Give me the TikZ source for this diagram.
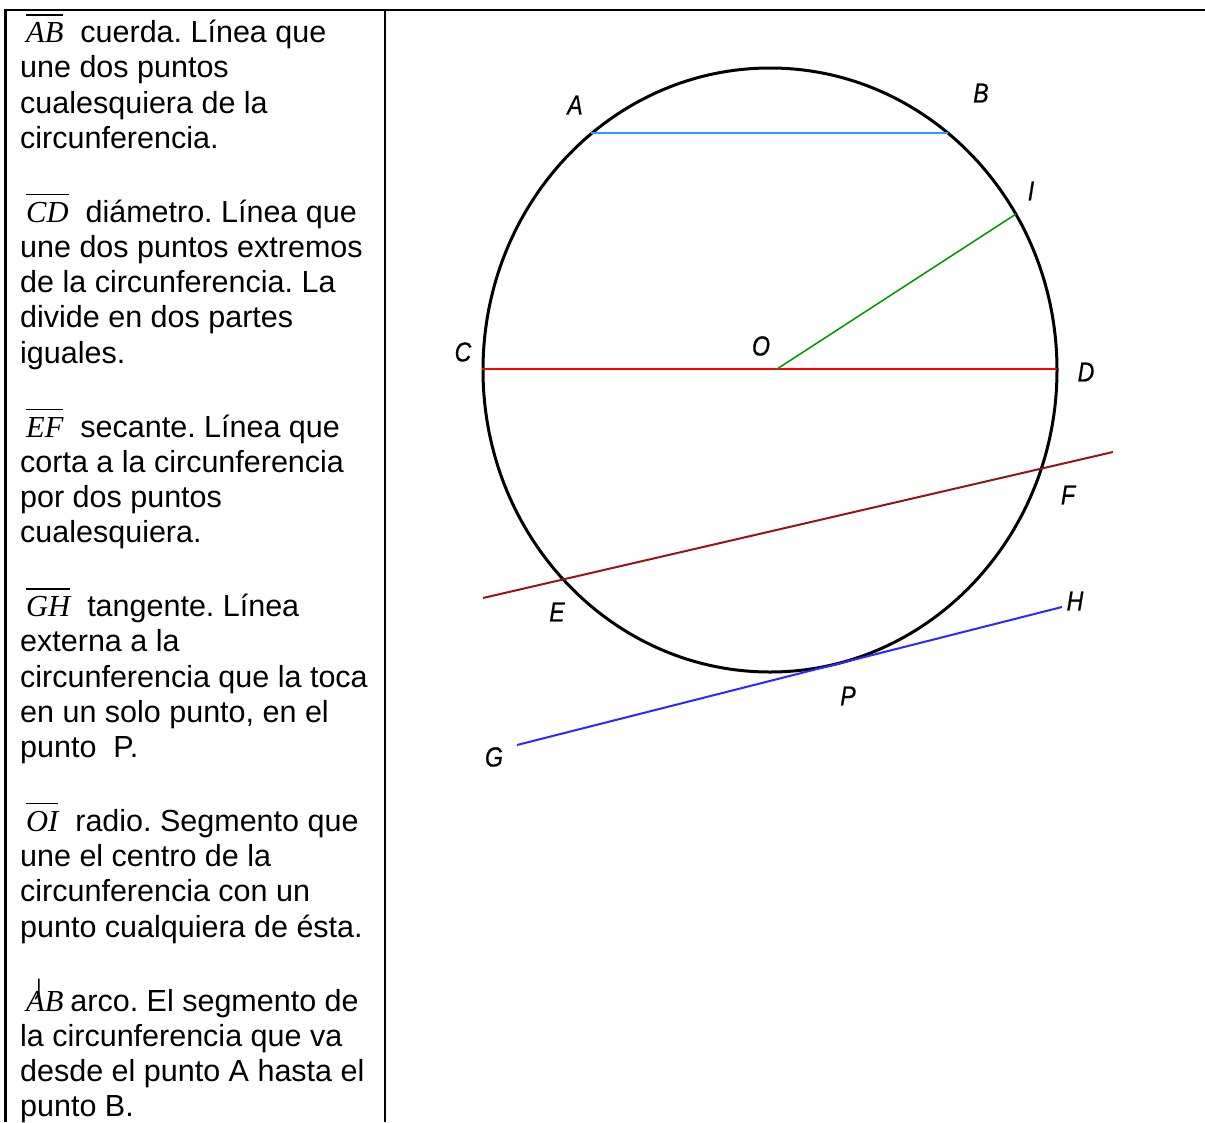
\documentclass[tikz,border=0pt]{standalone}
\usetikzlibrary{shapes.geometric}
\usepackage{fontspec}
\setmainfont{Liberation Sans}
\newfontfamily\serifit{Liberation Serif}
\newfontfamily\lblfont[FakeStretch=0.84,FakeBold=0.6]{Liberation Sans}
\newcommand\myovl[1]{\hspace*{6pt}\vbox{\hrule height 1.3pt\kern 7pt\hbox{\serifit\itshape #1}}\hspace*{17pt}}
\frenchspacing
\tikzset{
  txt/.style={anchor=base west, inner sep=0pt, font=\frenchspacing\fontsize{30.5}{35.2}\selectfont},
  lbl/.style={inner sep=0pt, font=\lblfont\itshape\fontsize{27.5}{27.5}\selectfont},
  rulel/.style={line width=2.3pt, black},
  circ/.style={line width=3pt, black},
  chordl/.style={line width=2.2pt, color={rgb,255:red,51;green,153;blue,255}},
  diaml/.style={line width=2pt, color={rgb,255:red,255;green,0;blue,0}},
  radl/.style={line width=1.5pt, color={rgb,255:red,0;green,150;blue,0}},
  secl/.style={line width=2pt, color={rgb,255:red,150;green,20;blue,20}},
  tanl/.style={line width=2pt, color={rgb,255:red,40;green,40;blue,255}},
}
\begin{document}
\begin{tikzpicture}[x=1pt,y=-1pt]
\useasboundingbox (0,0) rectangle (1205,1122);
% table rules
\coordinate (t1) at (4.5,10);
\coordinate (t2) at (1205,10);
\coordinate (l1) at (5.5,9);
\coordinate (l2) at (5.5,1122);
\coordinate (m1) at (384.7,9);
\coordinate (m2) at (384.7,1122);
\draw[rulel] (t1) -- (t2);
\draw[rulel] (l1) -- (l2);
\draw[rulel] (m1) -- (m2);
% text paragraphs
\node[txt] (a1) at (20,42.7) {\myovl{AB}cuerda. Línea que};
\node[txt] (a2) at (20,77.9) {une dos puntos};
\node[txt] (a3) at (20,113.1) {cualesquiera de la};
\node[txt] (a4) at (20,148.3) {circunferencia.};
\node[txt] (b1) at (20,222.3) {\myovl{CD}diámetro. Línea que};
\node[txt] (b2) at (20,257.5) {une dos puntos extremos};
\node[txt] (b3) at (20,292.7) {de la circunferencia. La};
\node[txt] (b4) at (20,327.9) {divide en dos partes};
\node[txt] (b5) at (20,363.1) {iguales.};
\node[txt] (c1) at (20,437.1) {\myovl{EF}secante. Línea que};
\node[txt] (c2) at (20,472.3) {corta a la circunferencia};
\node[txt] (c3) at (20,507.5) {por dos puntos};
\node[txt] (c4) at (20,542.7) {cualesquiera.};
\node[txt] (d1) at (20,616.7) {\myovl{GH}tangente. Línea};
\node[txt] (d2) at (20,651.9) {externa a la};
\node[txt] (d3) at (20,687.1) {circunferencia que la toca};
\node[txt] (d4) at (20,722.3) {en un solo punto, en el};
\node[txt] (d5) at (20,757.5) {punto\ \ P.};
\node[txt] (e1) at (20,831.5) {\myovl{OI}radio. Segmento que};
\node[txt] (e2) at (20,866.7) {une el centro de la};
\node[txt] (e3) at (20,901.9) {circunferencia con un};
\node[txt] (e4) at (20,937.1) {punto cualquiera de ésta.};
\node[txt] (f1) at (20,1011.1) {\hspace*{6pt}{\serifit\itshape AB}\hspace*{7pt}arco. El segmento de};
\node[txt] (f2) at (20,1046.3) {la circunferencia que va};
\node[txt] (f3) at (20,1081.5) {desde el punto A hasta el};
\node[txt] (f4) at (20,1116.7) {punto B.};
\coordinate (k1) at (38.8,979);
\coordinate (k2) at (38.8,993);
\coordinate (k3) at (35.5,999);
\draw[line width=1.5pt, line cap=round] (k1) -- (k2) -- (k3);
% circle
\node[circ, draw, ellipse, minimum width=574pt, minimum height=604pt, inner sep=0pt] (circ0) at (770,370) {};
% points
\coordinate (A) at (591,133);
\coordinate (B) at (948,133);
\coordinate (C) at (482,369);
\coordinate (D) at (1057,369);
\coordinate (O) at (777,369);
\coordinate (I) at (1016,214);
\coordinate (E) at (483,598);
\coordinate (F) at (1113,452);
\coordinate (G) at (517,745);
\coordinate (H) at (1062,607);
\draw[chordl] (A) -- (B);
\draw[diaml] (C) -- (D);
\draw[radl] (O) -- (I);
\draw[secl] (E) -- (F);
\draw[tanl] (G) -- (H);
% labels
\node[lbl] (lA) at (575,105) {A};
\node[lbl] (lB) at (981,93) {B};
\node[lbl] (lI) at (1031,191) {I};
\node[lbl] (lC) at (463,352) {C};
\node[lbl] (lO) at (761,346) {O};
\node[lbl] (lD) at (1086,372) {D};
\node[lbl] (lF) at (1068,495) {F};
\node[lbl] (lE) at (557,612) {E};
\node[lbl] (lH) at (1075,601) {H};
\node[lbl] (lP) at (848,696) {P};
\node[lbl] (lG) at (494,757) {G};
\end{tikzpicture}
\end{document}
